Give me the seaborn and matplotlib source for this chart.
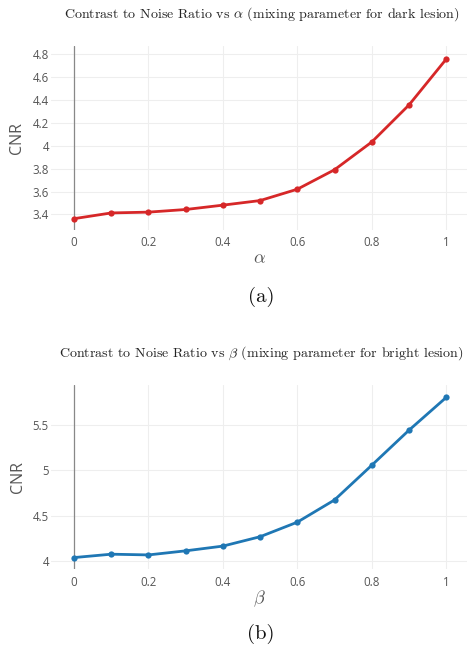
import matplotlib
matplotlib.use("Agg")
import matplotlib.pyplot as plt
import seaborn as sns
import pandas as pd

alpha_vals = [0.0, 0.1, 0.2, 0.3, 0.4, 0.5, 0.6, 0.7, 0.8, 0.9, 1.0]
cnr_dark = [3.363, 3.413, 3.42, 3.443, 3.481, 3.521, 3.62, 3.79, 4.032, 4.355, 4.755]
beta_vals = [0.0, 0.1, 0.2, 0.3, 0.4, 0.5, 0.6, 0.7, 0.8, 0.9, 1.0]
cnr_bright = [4.041, 4.078, 4.07, 4.115, 4.167, 4.27, 4.43, 4.674, 5.055, 5.44, 5.80]

x_ticks = [0, 0.2, 0.4, 0.6, 0.8, 1]
x_ticklabels = ["0", "0.2", "0.4", "0.6", "0.8", "1"]
yticks_a = [3.4, 3.6, 3.8, 4.0, 4.2, 4.4, 4.6, 4.8]
yticklabels_a = ["3.4", "3.6", "3.8", "4", "4.2", "4.4", "4.6", "4.8"]
yticks_b = [4.0, 4.5, 5.0, 5.5]
yticklabels_b = ["4", "4.5", "5", "5.5"]

title_a = r"Contrast to Noise Ratio vs $\alpha$ (mixing parameter for dark lesion)"
title_b = r"Contrast to Noise Ratio vs $\beta$ (mixing parameter for bright lesion)"

sns.set_style("white")
plt.rcParams["mathtext.fontset"] = "cm"
plt.rcParams["font.family"] = ["Open Sans", "DejaVu Sans"]

df_a = pd.DataFrame({"x": alpha_vals, "y": cnr_dark})
df_b = pd.DataFrame({"x": beta_vals, "y": cnr_bright})

fig = plt.figure(figsize=(4.67, 6.49), dpi=100)
ax_a = fig.add_axes([0.1092, 0.6456, 0.8908, 0.2835])
ax_b = fig.add_axes([0.1092, 0.1228, 0.8908, 0.2840])

grey = "#555555"

def style(ax, df, color, yticks, yticklabels, ylim, xlab):
    sns.lineplot(data=df, x="x", y="y", ax=ax, color=color, marker="o",
                 markersize=4.5, markeredgewidth=0, linewidth=2.0, zorder=3)
    ax.set_xlim(-0.062, 1.056)
    ax.set_ylim(*ylim)
    ax.set_xticks(x_ticks)
    ax.set_xticklabels(x_ticklabels)
    ax.set_yticks(yticks)
    ax.set_yticklabels(yticklabels)
    ax.grid(True, color="#eeeeee", linewidth=0.8)
    ax.set_axisbelow(True)
    for s in ["top", "right", "bottom", "left"]:
        ax.spines[s].set_visible(False)
    ax.axvline(0, color="#888888", linewidth=0.9, zorder=2)
    ax.tick_params(axis="both", length=0, labelsize=8.3, colors=grey)
    ax.tick_params(axis="x", pad=4.5)
    ax.tick_params(axis="y", pad=1.5)
    ax.set_ylabel("CNR", fontsize=11.5, color=grey, labelpad=5)
    ax.set_xlabel(xlab, fontsize=13, color=grey, labelpad=0)

style(ax_a, df_a, "#d62728", yticks_a, yticklabels_a, (3.264, 4.87), r"$\alpha$")
style(ax_b, df_b, "#1f77b4", yticks_b, yticklabels_b, (3.912, 5.937), r"$\beta$")

fig.text(262 / 467, 1 - 14 / 649, title_a, ha="center", va="center",
         fontsize=10.1, family="cmr10", color="#222222")
fig.text(261 / 467, 1 - 353 / 649, title_b, ha="center", va="center",
         fontsize=10.1, family="cmr10", color="#222222")
fig.text(261 / 467, 1 - 297 / 649, "(a)", ha="center", va="center",
         fontsize=15, family="cmr10", color="#111111")
fig.text(261 / 467, 1 - 634 / 649, "(b)", ha="center", va="center",
         fontsize=15, family="cmr10", color="#111111")

fig.savefig("out.png", dpi=100, facecolor="white")
